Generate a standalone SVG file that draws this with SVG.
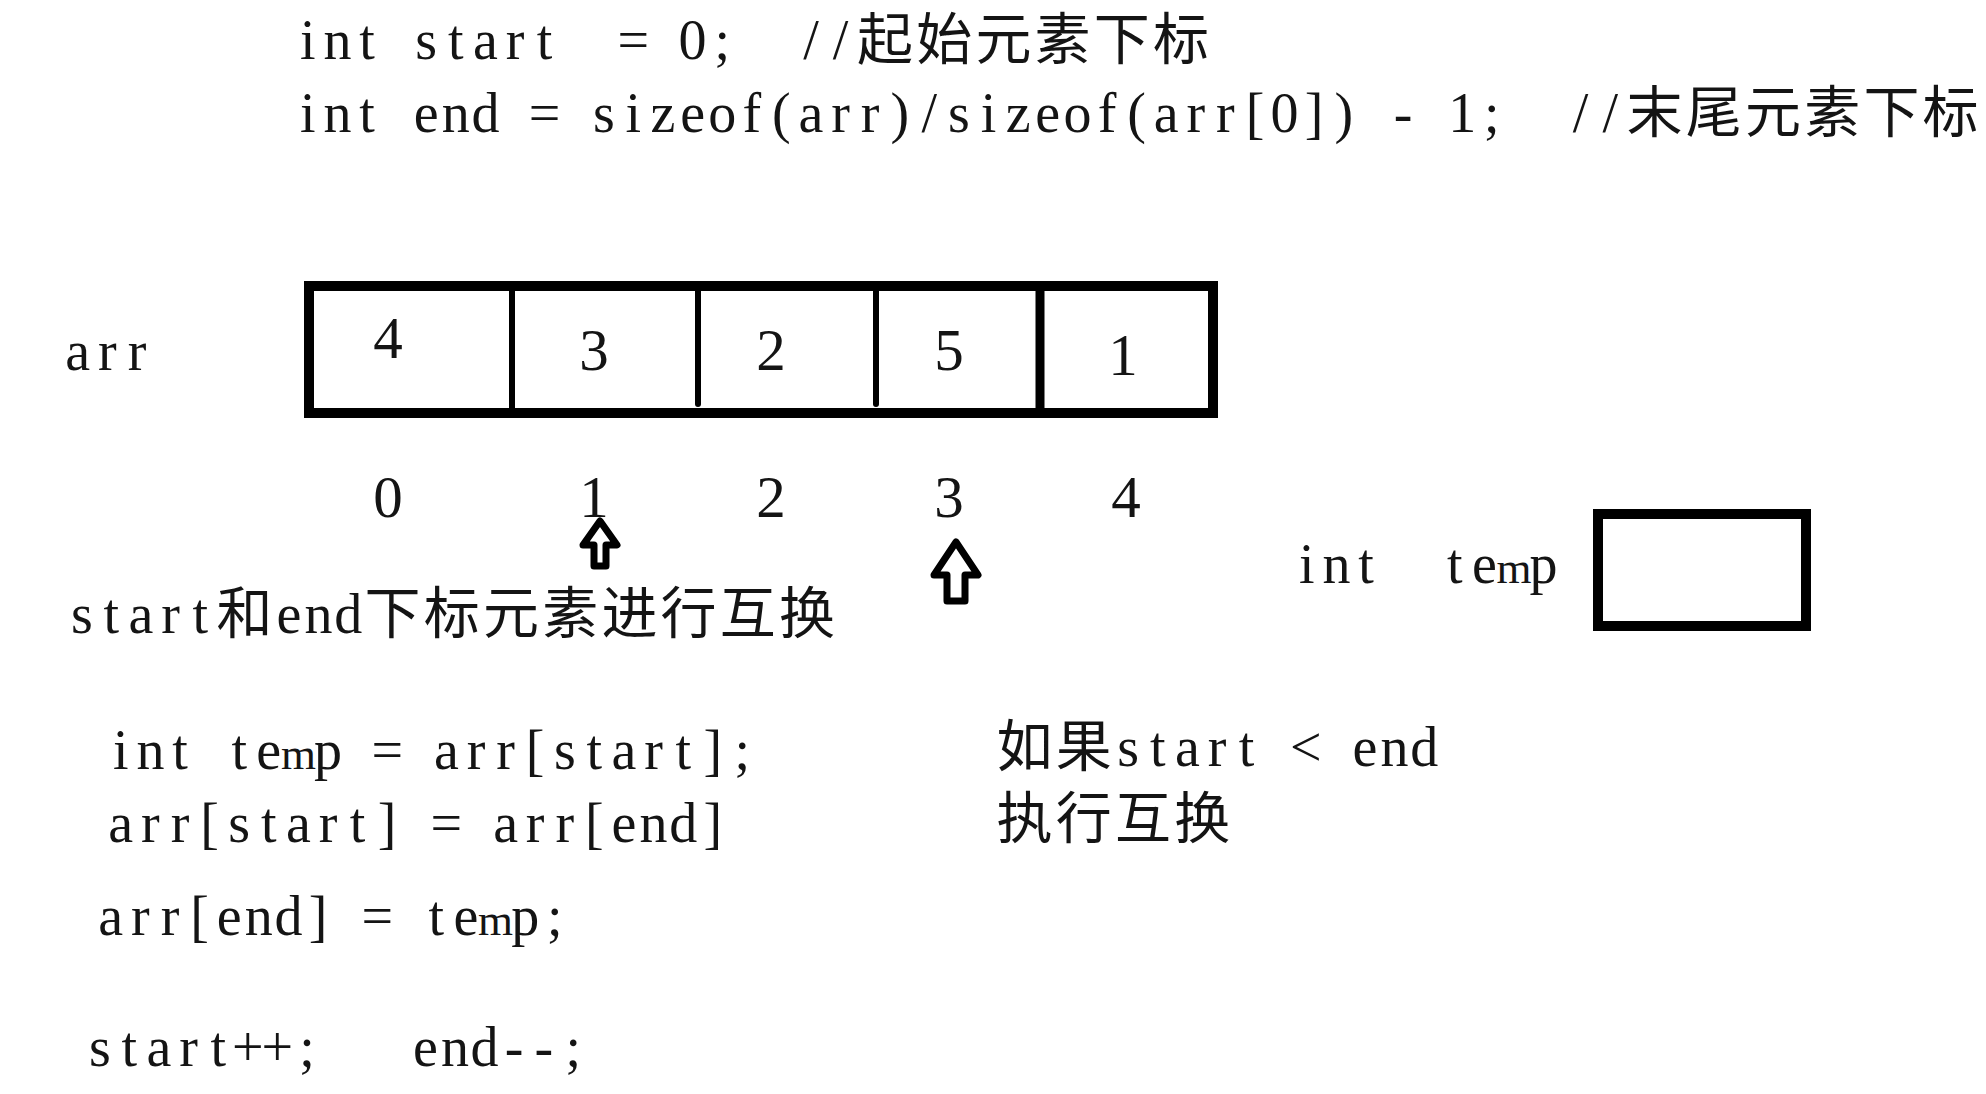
<svg xmlns="http://www.w3.org/2000/svg" width="1986" height="1094" viewBox="0 0 1986 1094">
<style>
text{font-family:"Liberation Serif","Noto Sans CJK SC",serif;fill:#141414;white-space:pre;text-anchor:middle;}
.code{font-size:56px;}
.m{font-size:45px;}
.cjk{font-size:55px;}
.dig{font-size:59px;}
.box{fill:none;stroke:#000;stroke-width:10;}
.div{stroke:#000;stroke-linecap:round;}
.arrow{fill:#fff;stroke:#000;stroke-width:7;stroke-linejoin:round;}
</style>
<rect width="1986" height="1094" fill="#fff"/>
<g id="header">
<text class="code" y="59" x="307.8 337.4 367.0 396.6 426.2 455.8 485.4 515.0 544.6 574.2 603.8 633.4 663.0 692.6 722.2 751.8 781.4 811.0 840.6 885.0 944.2 1003.4 1062.6 1121.8 1181.0">int start  = 0;  //起始元素下标</text>
<text class="code" y="132" x="307.8 337.4 367.0 396.6 426.2 455.8 485.4 515.0 544.6 574.2 603.8 633.4 663.0 692.6 722.2 751.8 781.4 811.0 840.6 870.2 899.8 929.4 959.0 988.6 1018.2 1047.8 1077.4 1107.0 1136.6 1166.2 1195.8 1225.4 1255.0 1284.6 1314.2 1343.8 1373.4 1403.0 1432.6 1462.2 1491.8 1521.4 1551.0 1580.6 1610.2 1654.6 1713.8 1773.0 1832.2 1891.4 1950.6">int end = sizeof(arr)/sizeof(arr[0]) - 1;  //末尾元素下标</text>
</g>
<g id="array">
<text class="code" y="370" x="77.8 107.4 137.0">arr</text>
<rect class="box" x="309" y="286" width="904" height="127"/>
<line class="div" x1="512" y1="290" x2="512" y2="412" stroke-width="6"/>
<line class="div" x1="698" y1="290" x2="698" y2="404" stroke-width="6"/>
<line class="div" x1="876" y1="290" x2="876" y2="404" stroke-width="6"/>
<line x1="1040" y1="286" x2="1040" y2="413" stroke="#000" stroke-width="9"/>
<text class="dig" x="388" y="358">4</text>
<text class="dig" x="594" y="370">3</text>
<text class="dig" x="771" y="370">2</text>
<text class="dig" x="949" y="370">5</text>
<text class="dig" x="1123" y="375">1</text>
</g>
<g id="indices">
<text class="dig" x="388" y="517">0</text>
<text class="dig" x="594" y="517">1</text>
<text class="dig" x="771" y="517">2</text>
<text class="dig" x="949" y="517">3</text>
<text class="dig" x="1126" y="517">4</text>
</g>
<g id="connectors">
<polygon class="arrow" points="600,521 617,545 606,545 606,566 594,566 594,545 583,545"/>
<polygon class="arrow" points="956,542 978,575 965,575 965,601 947,601 947,575 934,575"/>
</g>
<g id="temp">
<text class="code" y="583" x="1306.8 1336.4 1366.0 1395.6 1425.2 1454.8 1484.4 1514.0 1543.6">int  te<tspan class="m" x="1514.0">m</tspan>p</text>
<rect class="box" x="1598" y="514" width="208" height="112"/>
</g>
<g id="swap-title">
<text class="code" y="633" x="81.8 111.4 141.0 170.6 200.2 244.6 289.0 318.6 348.2 392.6 451.8 511.0 570.2 629.4 688.6 747.8 807.0">start和end下标元素进行互换</text>
</g>
<g id="code">
<text class="code" y="769" x="120.8 150.4 180.0 209.6 239.2 268.8 298.4 328.0 357.6 387.2 416.8 446.4 476.0 505.6 535.2 564.8 594.4 624.0 653.6 683.2 712.8 742.4">int te<tspan class="m" x="298.4">m</tspan>p = arr[start];</text>
<text class="code" y="842" x="120.8 150.4 180.0 209.6 239.2 268.8 298.4 328.0 357.6 387.2 416.8 446.4 476.0 505.6 535.2 564.8 594.4 624.0 653.6 683.2 712.8">arr[start] = arr[end]</text>
<text class="code" y="935" x="110.8 140.4 170.0 199.6 229.2 258.8 288.4 318.0 347.6 377.2 406.8 436.4 466.0 495.6 525.2 554.8">arr[end] = te<tspan class="m" x="495.6">m</tspan>p;</text>
<text class="code" y="1066" x="99.8 129.4 159.0 188.6 218.2 247.8 277.4 307.0 336.6 366.2 395.8 425.4 455.0 484.6 514.2 543.8 573.4">start++;   end--;</text>
</g>
<g id="condition">
<text class="code" y="766" x="1024.6 1083.8 1128.2 1157.8 1187.4 1217.0 1246.6 1276.2 1305.8 1335.4 1365.0 1394.6 1424.2">如果start &lt; end</text>
<text class="code" y="838" x="1024.6 1083.8 1143.0 1202.2">执行互换</text>
</g>
</svg>
